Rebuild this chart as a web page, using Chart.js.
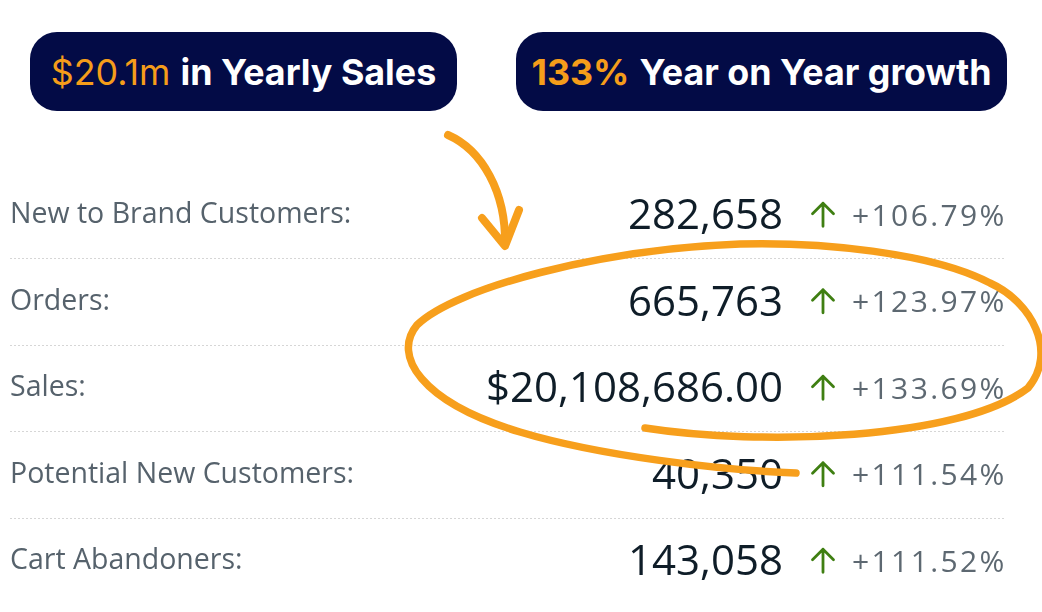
<!DOCTYPE html>
<html>
<head>
<meta charset="utf-8">
<script src="https://cdn.jsdelivr.net/npm/chart.js@4/dist/chart.umd.min.js"></script>
<style>
  html, body { margin: 0; padding: 0; background: #ffffff; }
  #wrap { position: relative; width: 1042px; height: 612px; overflow: hidden; background: #fff; }
  #c { position: absolute; left: 0; top: 0; }
  .pill { position: absolute; top: 32px; height: 79px; border-radius: 27px; background: #030b46;
          display: flex; align-items: center; justify-content: center;
          font-family: Inter, 'Noto Sans', sans-serif; font-size: 35.8px; color: #ffffff; white-space: nowrap; }
  .pill .hl { color: #f59d1a; }
  .pill b { font-weight: 700; }
  #ann { position: absolute; left: 0; top: 0; pointer-events: none; }
</style>
</head>
<body>
<div id="wrap">
  <canvas id="c" width="1042" height="612"></canvas>
  <div class="pill" id="p1" style="left:30px; width:427px;"></div>
  <div class="pill" id="p2" style="left:516px; width:491px;"></div>
  <svg id="ann" width="1042" height="612" viewBox="0 0 1042 612">
    <path d="M 645 428 C 760 446, 960 440, 1028 388 C 1058 352, 1032 302, 990 283 C 930 252, 820 242, 740 244 C 600 249, 455 288, 417 325 C 392 355, 420 402, 520 432 C 600 456, 720 470, 796 473"
          fill="none" stroke="#f79f1c" stroke-width="7.5" stroke-linecap="round"/>
    <path d="M 448 135 C 482 150, 506 192, 505 244" fill="none" stroke="#f79f1c" stroke-width="8" stroke-linecap="round"/>
    <path d="M 482 218 L 505 246 L 519 210" fill="none" stroke="#f79f1c" stroke-width="8" stroke-linecap="round" stroke-linejoin="round"/>
  </svg>
</div>
<script>
// ---- data ----
const categories = ['New to Brand Customers:', 'Orders:', 'Sales:', 'Potential New Customers:', 'Cart Abandoners:'];
const metricValues = [282658, 665763, 20108686.00, 40350, 143058];
const metricIsCurrency = [false, false, true, false, false];
const growthPct = [106.79, 123.97, 133.69, 111.54, 111.52];
const headlineFigures = ['$20.1m', '133%'];
const headlineTexts = ['in Yearly Sales', 'Year on Year growth'];

// ---- headline pills ----
document.getElementById('p1').innerHTML =
  '<span class="hl">' + headlineFigures[0] + '</span>&nbsp;<b>' + headlineTexts[0] + '</b>';
document.getElementById('p2').innerHTML =
  '<b class="hl">' + headlineFigures[1] + '</b>&nbsp;<b>' + headlineTexts[1] + '</b>';

function fmtValue(v, cur) {
  if (cur) return '$' + v.toLocaleString('en-US', {minimumFractionDigits: 2, maximumFractionDigits: 2});
  return v.toLocaleString('en-US');
}
function fmtPct(p) { return '+' + p.toFixed(2) + '%'; }

const rowTextPlugin = {
  id: 'rowText',
  afterDatasetsDraw(chart) {
    const ctx = chart.ctx;
    const meta = chart.getDatasetMeta(0);
    const valueRight = 783;
    const arrowX = 823;
    const pctLeft = 852;
    ctx.save();
    meta.data.forEach((pt, i) => {
      const y = pt.y;
      // value
      ctx.letterSpacing = '0px';
      ctx.font = '42px "Open Sans"';
      ctx.fillStyle = '#0f1d28';
      ctx.textAlign = 'right';
      ctx.textBaseline = 'alphabetic';
      ctx.fillText(fmtValue(metricValues[i], metricIsCurrency[i]), valueRight, y + 14);
      // arrow
      ctx.strokeStyle = '#3f7f12';
      ctx.lineWidth = 2.8;
      ctx.lineCap = 'round';
      ctx.lineJoin = 'round';
      ctx.beginPath();
      ctx.moveTo(arrowX, y + 11);
      ctx.lineTo(arrowX, y - 12);
      ctx.moveTo(arrowX - 10.5, y - 1.5);
      ctx.lineTo(arrowX, y - 12);
      ctx.lineTo(arrowX + 10.5, y - 1.5);
      ctx.stroke();
      // pct
      ctx.font = '30px "Open Sans"';
      ctx.letterSpacing = '2.4px';
      ctx.fillStyle = '#5d6871';
      ctx.textAlign = 'left';
      ctx.fillText(fmtPct(growthPct[i]), pctLeft, y + 10.5);
    });
    ctx.restore();
  }
};

new Chart(document.getElementById('c'), {
  type: 'scatter',
  data: {
    labels: categories,
    datasets: [{
      data: growthPct.map((g, i) => ({x: g, y: categories[i]})),
      pointRadius: 0,
      pointHoverRadius: 0
    }]
  },
  options: {
    responsive: false,
    animation: false,
    events: [],
    layout: { padding: { left: 10, right: 37, top: 172, bottom: 7.5 } },
    plugins: { legend: { display: false }, tooltip: { enabled: false } },
    scales: {
      x: { type: 'linear', display: false, min: 0, max: 200 },
      y: {
        type: 'category',
        labels: categories,
        offset: true,
        border: { display: false, dash: [2, 2] },
        grid: {
          offset: true,
          drawTicks: false,
          lineWidth: 1,
          color: (c) => (c.index >= 1 && c.index <= 4) ? '#d6d6d6' : 'rgba(0,0,0,0)'
        },
        ticks: {
          mirror: true,
          padding: 0,
          color: '#56626c',
          font: { family: 'Open Sans', size: 28.5, lineHeight: 0.4 }
        }
      }
    }
  },
  plugins: [rowTextPlugin]
});
</script>
</body>
</html>
